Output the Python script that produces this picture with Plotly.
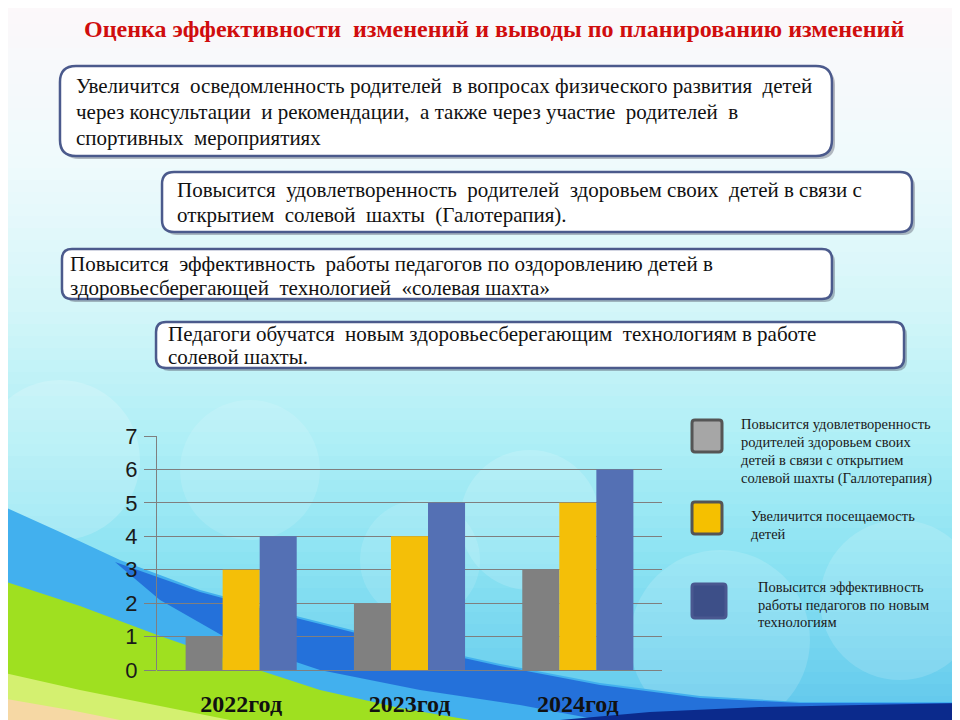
import plotly.graph_objects as go

# the page body has an 8px margin, so the figure is drawn 8px in from the corner
OX, OY = 8, 8
W, H = 960 - OX, 720 - OY

# ---- data ----
years = ["2022год", "2023год", "2024год"]
satisfaction = [1, 2, 3]   # gray
attendance = [3, 4, 5]     # yellow
efficiency = [4, 5, 6]     # blue

legend_lines = [
    ["Повысится удовлетворенность", "родителей здоровьем своих",
     "детей в связи с открытием", "солевой шахты (Галлотерапия)"],
    ["Увеличится посещаемость", "детей"],
    ["Повысится эффективность", "работы педагогов по новым", "технологиям"],
]

title_text = "Оценка эффективности  изменений и выводы по планированию изменений"
box_lines = [
    ["Увеличится  осведомленность родителей  в вопросах физического развития  детей",
     "через консультации  и рекомендации,  а также через участие  родителей  в",
     "спортивных  мероприятиях"],
    ["Повысится  удовлетворенность  родителей  здоровьем своих  детей в связи с",
     "открытием  солевой  шахты  (Галотерапия)."],
    ["Повысится  эффективность  работы педагогов по оздоровлению детей в",
     "здоровьесберегающей  технологией  «солевая шахта»"],
    ["Педагоги обучатся  новым здоровьесберегающим  технологиям в работе",
     "солевой шахты."],
]

SERIF = "Liberation Serif, Times New Roman, serif"


def px(x, y):
    return (x - OX) / W, 1 - (y - OY) / H


def fmt(x, y):
    a, b = px(x, y)
    return f"{a:.4f},{b:.4f}"


def path(pts):
    return " ".join(("M " if i == 0 else "L ") + fmt(x, y) for i, (x, y) in enumerate(pts)) + " Z"


def rrect(x0, y0, x1, y1, r):
    return (f"M {fmt(x0 + r, y0)} L {fmt(x1 - r, y0)} Q {fmt(x1, y0)} {fmt(x1, y0 + r)} "
            f"L {fmt(x1, y1 - r)} Q {fmt(x1, y1)} {fmt(x1 - r, y1)} "
            f"L {fmt(x0 + r, y1)} Q {fmt(x0, y1)} {fmt(x0, y1 - r)} "
            f"L {fmt(x0, y0 + r)} Q {fmt(x0, y0)} {fmt(x0 + r, y0)} Z")


def hexmix(c1, c2, t):
    a = [int(c1[i:i + 2], 16) for i in (1, 3, 5)]
    b = [int(c2[i:i + 2], 16) for i in (1, 3, 5)]
    return "#" + "".join(f"{round(a[k] + (b[k] - a[k]) * t):02x}" for k in range(3))


shapes = []

# background vertical gradient
stops = [(0, "#fcf8fa"), (150, "#f0fafc"), (300, "#d4f6f9"), (430, "#b0eff6"),
         (560, "#8ae2f2"), (721, "#5ec6ec")]
step = 12
for y in range(0, 720, step):
    for (ya, ca), (yb, cb) in zip(stops, stops[1:]):
        if ya <= y < yb:
            col = hexmix(ca, cb, (y - ya) / (yb - ya))
    x0, y0 = px(0, y)
    x1, y1 = px(960, y + step + 1)
    shapes.append(dict(type="rect", xref="paper", yref="paper", x0=x0, x1=x1, y0=y1, y1=y0,
                       fillcolor=col, line_width=0, layer="below"))

# soft bokeh circles
for cx, cy, r, op in [(60, 460, 80, 0.18), (530, 520, 70, 0.15), (250, 470, 70, 0.12),
                      (720, 640, 90, 0.15), (900, 600, 80, 0.15), (420, 560, 60, 0.12)]:
    a0, b0 = px(cx - r, cy + r)
    a1, b1 = px(cx + r, cy - r)
    shapes.append(dict(type="circle", xref="paper", yref="paper", x0=a0, x1=a1, y0=b0, y1=b1,
                       fillcolor="white", opacity=op, line_width=0, layer="below"))

# blue swoosh
shapes.append(dict(type="path", xref="paper", yref="paper", layer="below", line_width=0,
                   fillcolor="#42b0ee",
                   path=path([(0, 505), (60, 532), (120, 560), (200, 590), (300, 617), (400, 642),
                              (500, 664), (600, 683), (700, 696), (800, 702), (960, 702),
                              (960, 720), (0, 720)])))
shapes.append(dict(type="path", xref="paper", yref="paper", layer="below", line_width=0,
                   fillcolor="#1f66d6", opacity=0.85,
                   path=path([(115, 562), (200, 592), (300, 619), (400, 644), (500, 666),
                              (600, 685), (700, 698), (800, 703), (960, 703), (960, 720),
                              (600, 720), (520, 705), (420, 690), (320, 670), (230, 640),
                              (160, 600)])))
# green area
shapes.append(dict(type="path", xref="paper", yref="paper", layer="below", line_width=0,
                   fillcolor="#9fe020",
                   path=path([(0, 580), (80, 606), (160, 636), (240, 664), (320, 690),
                              (400, 708), (470, 720), (0, 720)])))
shapes.append(dict(type="path", xref="paper", yref="paper", layer="below", line_width=0,
                   fillcolor="#d4f070",
                   path=path([(0, 672), (80, 690), (160, 706), (230, 720), (0, 720)])))
shapes.append(dict(type="path", xref="paper", yref="paper", layer="below", line_width=0,
                   fillcolor="#f6d8a4",
                   path=path([(0, 698), (70, 710), (120, 720), (0, 720)])))
# dark navy bottom right
shapes.append(dict(type="path", xref="paper", yref="paper", layer="below", line_width=0,
                   fillcolor="#0b2a8c",
                   path=path([(560, 720), (650, 712), (760, 707), (860, 705), (960, 703),
                              (960, 720)])))

# text boxes
boxes = [(60, 66, 832, 156, 16), (162, 172, 912, 232, 12),
         (62, 249, 832, 299, 10), (156, 322, 904, 368, 10)]
for x0, y0, x1, y1, r in boxes:
    shapes.append(dict(type="path", xref="paper", yref="paper", layer="below",
                       path=rrect(x0 + 3, y0 + 3, x1 + 3, y1 + 3, r),
                       fillcolor="rgba(60,60,80,0.35)", line_width=0))
    shapes.append(dict(type="path", xref="paper", yref="paper", layer="below",
                       path=rrect(x0, y0, x1, y1, r), fillcolor="white",
                       line=dict(color="#4b5a8c", width=2.5)))

# legend squares
leg_sq = [((692, 420, 722, 452), "#a6a6a6", "#555555"),
          ((692, 502, 722, 534), "#f5c000", "#555555"),
          ((692, 584, 726, 618), "#3d4f88", "#4a5890")]
for (x0, y0, x1, y1), fc, lc in leg_sq:
    shapes.append(dict(type="path", xref="paper", yref="paper", layer="above",
                       path=rrect(x0, y0, x1, y1, 3), fillcolor=fc,
                       line=dict(color=lc, width=3)))

annotations = []
tx, ty = px(494, 29)
annotations.append(dict(xref="paper", yref="paper", x=tx, y=ty, text=title_text,
                        showarrow=False, xanchor="center", yanchor="middle",
                        font=dict(family=SERIF, size=24, color="#d00d0d", weight="bold")))

line_pos = [(74, [86, 112, 138]), (175, [190, 215]), (68, [264, 288]), (166, [334, 357])]
for lines, (lx, ys) in zip(box_lines, line_pos):
    for text, ly in zip(lines, ys):
        a, b = px(lx, ly)
        annotations.append(dict(xref="paper", yref="paper", x=a, y=b, text=text,
                                showarrow=False, xanchor="left", yanchor="middle",
                                font=dict(family=SERIF, size=21, color="#111111")))

leg_pos = [(739, [424, 442, 460, 478]), (749, [516, 534]), (756, [587, 605, 622])]
for lines, (lx, ys) in zip(legend_lines, leg_pos):
    for text, ly in zip(lines, ys):
        a, b = px(lx, ly)
        annotations.append(dict(xref="paper", yref="paper", x=a, y=b, text=text,
                                showarrow=False, xanchor="left", yanchor="middle",
                                font=dict(family=SERIF, size=14.5, color="#1a1a1a")))

fig = go.Figure()
names = [" ".join(l) for l in legend_lines]
for vals, color, name in zip([satisfaction, attendance, efficiency],
                             ["#808080", "#f4bf08", "#5470b4"], names):
    fig.add_trace(go.Bar(x=years, y=vals, name=name, marker=dict(color=color, line_width=0)))

xd0, yd0 = px(157, 670)
xd1, yd1 = px(662, 436)
fig.update_layout(
    width=W, height=H,
    margin=dict(l=0, r=0, t=0, b=0, pad=0),
    paper_bgcolor="#d8f6f9",
    plot_bgcolor="rgba(0,0,0,0)",
    showlegend=False,
    barmode="group", bargap=0.34, bargroupgap=0,
    shapes=shapes, annotations=annotations,
    xaxis=dict(domain=[xd0, xd1], automargin=False, showgrid=False, showline=False, ticks="",
               tickfont=dict(family=SERIF, size=24, color="#111111", weight="bold"),
               ticklabelstandoff=17),
    yaxis=dict(domain=[yd0, yd1], automargin=False, range=[0, 7], dtick=1,
               showgrid=True, gridcolor="#7f7f7f", gridwidth=1,
               showline=True, linecolor="#7f7f7f", linewidth=1,
               ticks="outside", ticklen=12, tickcolor="#7f7f7f",
               zeroline=True, zerolinecolor="#7f7f7f", zerolinewidth=1,
               tickfont=dict(family="Liberation Sans, Arial, sans-serif", size=22, color="#1a1a1a"),
               ticklabelstandoff=2),
)

fig.write_html("out.html")
